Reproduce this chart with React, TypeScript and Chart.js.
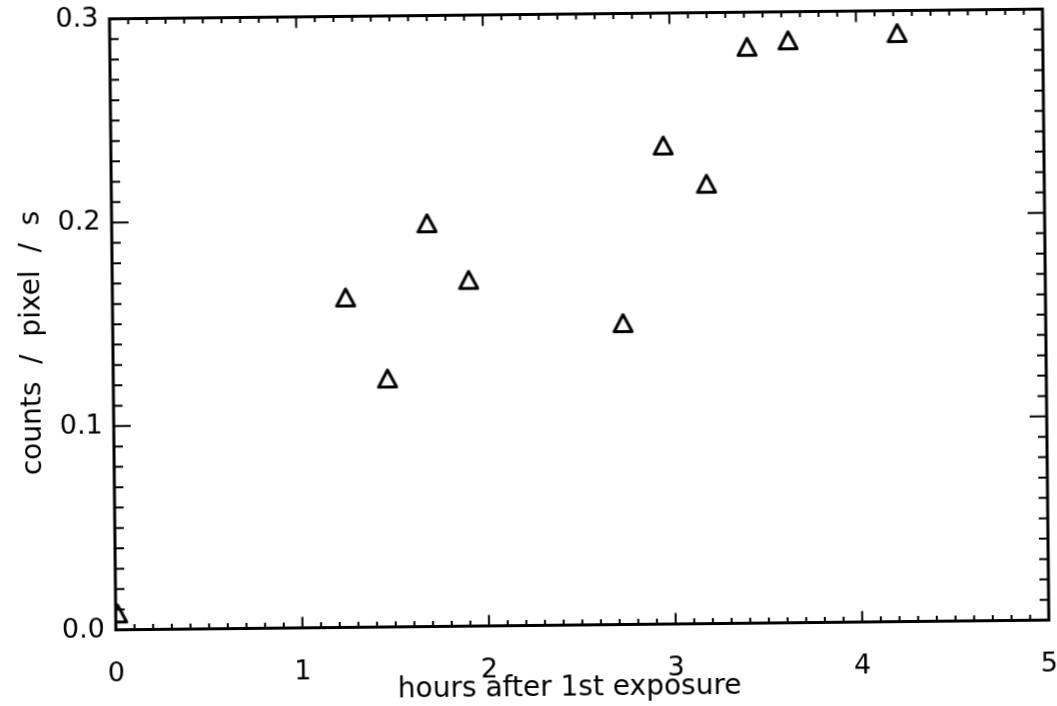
import React, { useEffect, useRef } from "react";
import { Chart, registerables } from "chart.js";

Chart.register(...registerables);

// Data
const hours = [0.01, 1.25, 1.47, 1.69, 1.91, 2.735, 2.96, 3.19, 3.415, 3.635, 4.22];
const countsPerPixel = [0.008, 0.162, 0.122, 0.198, 0.17, 0.148, 0.235, 0.216, 0.283, 0.286, 0.289];

// Axis ticks
const xTickValues = [0, 1, 2, 3, 4, 5];
const yTickValues = [0, 0.1, 0.2, 0.3];
const xMinorStep = 0.1;
const yMinorStep = 0.01;

const NB = "\u00a0";
const xTitle = "hours after 1st exposure" + NB + NB + NB;
const yTitle = "counts  /  pixel  /  s" + NB + NB + NB + NB;

const W = 1057;
const H = 706;
const FONT = "'DejaVu Sans', 'Liberation Sans', sans-serif";

function makeTriangle(): HTMLCanvasElement {
  const c = document.createElement("canvas");
  c.width = 22;
  c.height = 22;
  const g = c.getContext("2d")!;
  g.strokeStyle = "#000";
  g.lineWidth = 3;
  g.lineJoin = "round";
  g.beginPath();
  g.moveTo(11, 2.5);
  g.lineTo(20, 19.5);
  g.lineTo(2, 19.5);
  g.closePath();
  g.stroke();
  return c;
}

const frameTicks = {
  id: "frameTicks",
  afterDatasetsDraw(chart: any) {
    const { ctx, chartArea: a, scales } = chart;
    const x = scales.x;
    const y = scales.y;
    ctx.save();
    ctx.strokeStyle = "#000";
    ctx.lineWidth = 2;
    ctx.beginPath();
    const xMin = xTickValues[0];
    const xMax = xTickValues[xTickValues.length - 1];
    const nx = Math.round((xMax - xMin) / xMinorStep);
    for (let i = 0; i <= nx; i++) {
      const v = xMin + i * xMinorStep;
      const px = x.getPixelForValue(v);
      const len = i % 10 === 0 ? 11 : 5.5;
      ctx.moveTo(px, a.bottom);
      ctx.lineTo(px, a.bottom - len);
      ctx.moveTo(px, a.top);
      ctx.lineTo(px, a.top + len);
    }
    const yMin = yTickValues[0];
    const yMax = yTickValues[yTickValues.length - 1];
    const ny = Math.round((yMax - yMin) / yMinorStep);
    for (let i = 0; i <= ny; i++) {
      const v = yMin + i * yMinorStep;
      const py = y.getPixelForValue(v);
      const len = i % 10 === 0 ? 17 : 9;
      ctx.moveTo(a.left, py);
      ctx.lineTo(a.left + len, py);
      ctx.moveTo(a.right, py);
      ctx.lineTo(a.right - len, py);
    }
    ctx.stroke();
    ctx.lineWidth = 3;
    ctx.strokeRect(a.left, a.top, a.right - a.left, a.bottom - a.top);
    ctx.restore();
  },
};

export default function App() {
  const ref = useRef<HTMLCanvasElement | null>(null);

  useEffect(() => {
    if (!ref.current) return;
    const tri = makeTriangle();
    const chart = new Chart(ref.current, {
      type: "scatter",
      data: {
        datasets: [
          {
            data: hours.map((h, i) => ({ x: h, y: countsPerPixel[i] })),
            pointStyle: tri as any,
            pointRadius: 10,
            borderColor: "#000",
            backgroundColor: "rgba(0,0,0,0)",
            clip: 0 as any,
          },
        ],
      },
      options: {
        responsive: false,
        animation: false,
        devicePixelRatio: 1,
        plugins: { legend: { display: false }, tooltip: { enabled: false } },
        layout: { padding: { top: 14.5, right: 9, left: 0, bottom: 0 } },
        scales: {
          x: {
            type: "linear",
            min: 0,
            max: 5,
            afterBuildTicks: (s: any) => {
              s.ticks = xTickValues.map((v) => ({ value: v }));
            },
            afterFit: (s: any) => {
              s.height = H - 625.5;
              s.paddingLeft = 0;
              s.paddingRight = 0;
            },
            grid: { display: false },
            border: { display: false },
            ticks: {
              autoSkip: false,
              maxRotation: 0,
              padding: 20,
              color: "#000",
              font: { family: FONT, size: 27 },
              callback: (v: any) => String(v),
            },
            title: {
              display: true,
              text: xTitle,
              color: "#000",
              font: { family: FONT, size: 28 },
              padding: { top: 0, bottom: 0 },
            },
          },
          y: {
            type: "linear",
            min: 0,
            max: 0.3,
            afterBuildTicks: (s: any) => {
              s.ticks = yTickValues.map((v) => ({ value: v }));
            },
            afterFit: (s: any) => {
              s.width = 113;
              s.paddingTop = 0;
              s.paddingBottom = 0;
            },
            grid: { display: false },
            border: { display: false },
            ticks: {
              autoSkip: false,
              padding: 3,
              color: "#000",
              font: { family: FONT, size: 27 },
              callback: (v: any) => Number(v).toFixed(1),
            },
            title: {
              display: true,
              text: yTitle,
              color: "#000",
              font: { family: FONT, size: 28 },
              padding: { top: 16, bottom: 0 },
            },
          },
        },
      },
      plugins: [frameTicks],
    });
    return () => chart.destroy();
  }, []);

  return (
    <div
      style={{
        position: "fixed",
        left: 0,
        top: 0,
        width: W,
        height: H,
        overflow: "hidden",
        background: "#fff",
      }}
    >
      <canvas
        ref={ref}
        width={W}
        height={H}
        style={{ display: "block", transform: "rotate(-0.6deg)", transformOrigin: "50% 50%" }}
      />
    </div>
  );
}
